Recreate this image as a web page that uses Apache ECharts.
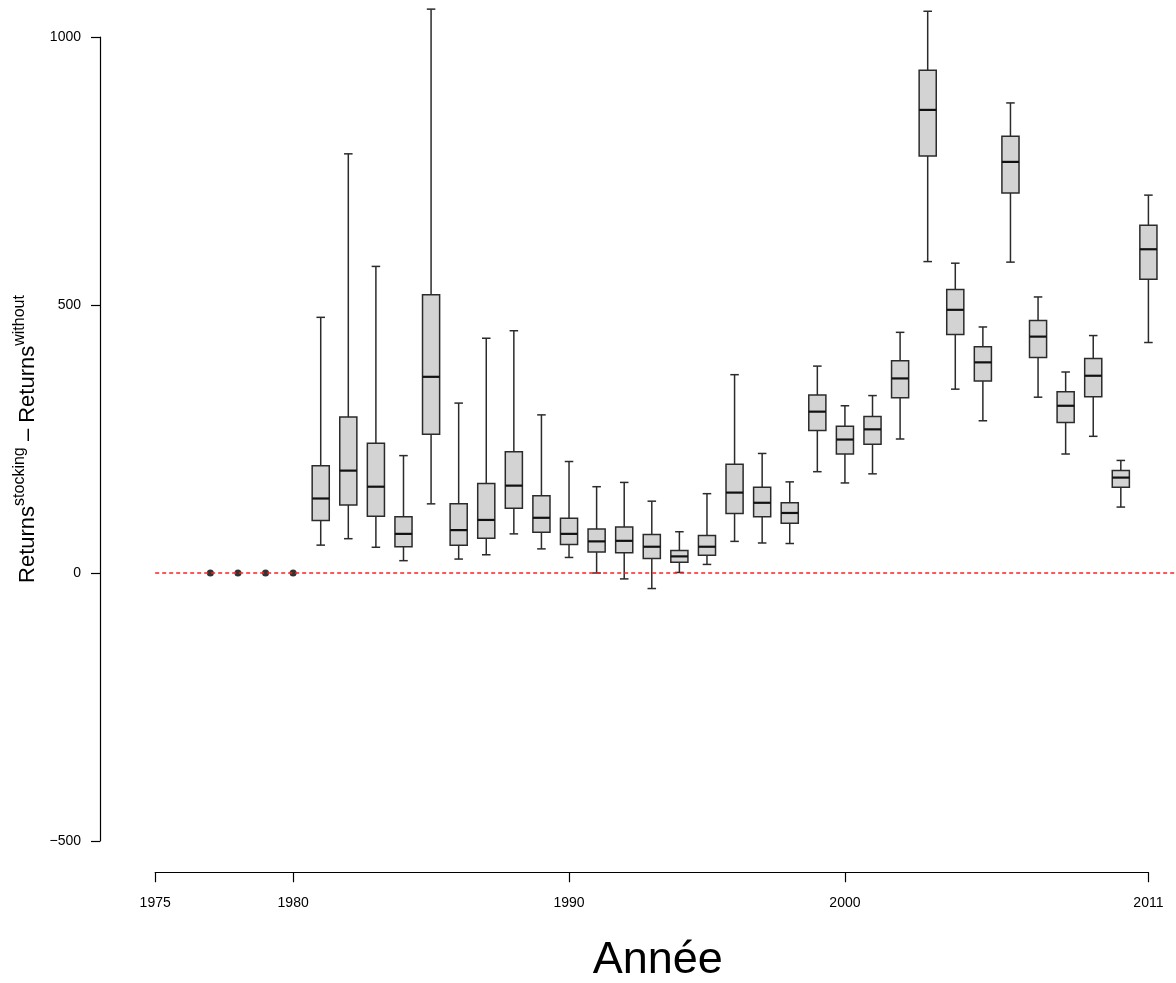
<!DOCTYPE html>
<html>
<head>
<meta charset="utf-8">
<script src="https://cdn.jsdelivr.net/npm/echarts@6.0.0/dist/echarts.min.js"></script>
<style>
  html, body { margin: 0; padding: 0; background: #ffffff; }
  #chart { width: 1176px; height: 983px; }
</style>
</head>
<body>
<div id="chart"></div>
<script>
// ---- Data ----
const years        = [1981,1982,1983,1984,1985,1986,1987,1988,1989,1990,1991,1992,1993,1994,1995,1996,1997,1998,1999,2000,2001,2002,2003,2004,2005,2006,2007,2008,2009,2010,2011];
const whiskerLow   = [  52,  64,  48,  23, 129,  26,  34,  73,  45,  29,   0, -11, -29,   1,  16,  59,  56,  55, 189, 168, 185, 250, 581, 343, 284, 580, 328, 222, 255, 123, 430];
const quartile1    = [  98, 127, 106,  49, 259,  52,  65, 121,  76,  53,  39,  38,  27,  20,  33, 111, 105,  93, 266, 222, 240, 327, 778, 445, 358, 709, 402, 281, 329, 160, 548];
const medians      = [ 139, 191, 161,  73, 366,  80,  99, 163, 103,  73,  59,  60,  49,  31,  49, 150, 131, 112, 301, 249, 268, 363, 864, 491, 393, 767, 441, 312, 368, 178, 604];
const quartile3    = [ 200, 291, 242, 105, 519, 129, 167, 226, 144, 102,  82,  86,  72,  42,  70, 203, 160, 131, 332, 274, 292, 396, 938, 529, 422, 815, 471, 338, 400, 191, 649];
const whiskerHigh  = [ 477, 782, 572, 219,1052, 317, 438, 452, 295, 208, 161, 169, 134,  77, 148, 370, 223, 170, 386, 312, 331, 449,1048, 578, 459, 877, 515, 375, 443, 210, 705];

const pointYears   = [1977, 1978, 1979, 1980];
const pointValues  = [0, 0, 0, 0];

const refLineYears = [1975, 2012];
const refLineValue = 0;

const xTickValues  = [1975, 1980, 1990, 2000, 2011];
const yTickMin = -500, yTickMax = 1000, yTickStep = 500;

const yTitle = '{b|Returns}{s|stocking}{b| \u2013 Returns}{s|without}';
const xTitle = 'Ann\u00e9e';

// ---- Build series data ----
const boxData = years.map((y, i) => [y, whiskerLow[i], quartile1[i], medians[i], quartile3[i], whiskerHigh[i]]);
const pointData = pointYears.map((y, i) => [y, pointValues[i]]);
const refData = refLineYears.map(y => [y, refLineValue]);

function renderBox(params, api) {
  const x = api.value(0);
  const pLo = api.coord([x, api.value(1)]);
  const pQ1 = api.coord([x, api.value(2)]);
  const pMed = api.coord([x, api.value(3)]);
  const pQ3 = api.coord([x, api.value(4)]);
  const pHi = api.coord([x, api.value(5)]);
  const w = api.size([1, 0])[0] * 0.62;
  const cx = pMed[0];
  const capW = w / 2;
  const lineStyle = { stroke: '#2b2b2b', lineWidth: 1.5 };
  return {
    type: 'group',
    children: [
      { type: 'line', shape: { x1: cx, y1: pLo[1], x2: cx, y2: pQ1[1] }, style: lineStyle },
      { type: 'line', shape: { x1: cx, y1: pQ3[1], x2: cx, y2: pHi[1] }, style: lineStyle },
      { type: 'line', shape: { x1: cx - capW / 2, y1: pLo[1], x2: cx + capW / 2, y2: pLo[1] }, style: lineStyle },
      { type: 'line', shape: { x1: cx - capW / 2, y1: pHi[1], x2: cx + capW / 2, y2: pHi[1] }, style: lineStyle },
      { type: 'rect', shape: { x: cx - w / 2, y: pQ3[1], width: w, height: pQ1[1] - pQ3[1] },
        style: { fill: '#d3d3d3', stroke: '#2b2b2b', lineWidth: 1.5 } },
      { type: 'line', shape: { x1: cx - w / 2, y1: pMed[1], x2: cx + w / 2, y2: pMed[1] },
        style: { stroke: '#111111', lineWidth: 2.2 } }
    ]
  };
}

const FONT = 'Liberation Sans, Arial, Helvetica, sans-serif';
const chart = echarts.init(document.getElementById('chart'), null, { renderer: 'canvas' });

const W = 1176;
const plotLeft = 100;
const plotWidth = W - plotLeft;
const pxPerYear = plotWidth / 39;

chart.setOption({
  animation: false,
  backgroundColor: '#ffffff',
  grid: [
    { left: plotLeft, width: plotWidth, top: 37, height: 804 },
    { left: plotLeft + 2 * pxPerYear, width: 36 * pxPerYear, top: 872, height: 1 }
  ],
  xAxis: [
    { type: 'value', gridIndex: 0, min: 1973, max: 2012, show: false },
    {
      type: 'value', gridIndex: 1, min: 1975, max: 2011, position: 'bottom',
      axisLine: { show: true, onZero: false, lineStyle: { color: '#000000', width: 1.2 } },
      axisTick: { show: true, length: 10, customValues: xTickValues, lineStyle: { color: '#000000', width: 1.2 } },
      axisLabel: { show: true, customValues: xTickValues, margin: 24, fontSize: 14, color: '#000000', fontFamily: FONT,
        formatter: v => String(v) },
      splitLine: { show: false },
      name: xTitle, nameLocation: 'middle', nameGap: 66,
      nameTextStyle: { fontSize: 45, color: '#000000', fontFamily: FONT, padding: [0, 0, 0, 12] }
    }
  ],
  yAxis: [
    {
      type: 'value', gridIndex: 0, min: yTickMin, max: yTickMax, interval: yTickStep, position: 'left',
      axisLine: { show: true, lineStyle: { color: '#000000', width: 1.2 } },
      axisTick: { show: true, length: 9, lineStyle: { color: '#000000', width: 1.2 } },
      axisLabel: { show: true, margin: 19, fontSize: 14, color: '#000000', fontFamily: FONT,
        formatter: v => String(v).replace('-', '\u2212') },
      splitLine: { show: false },
      name: yTitle, nameLocation: 'middle', nameRotate: 90, nameGap: 49,
      nameTextStyle: {
        color: '#000000', fontFamily: FONT,
        rich: {
          b: { fontSize: 22, lineHeight: 27, verticalAlign: 'bottom', fontFamily: FONT, color: '#000000' },
          s: { fontSize: 16, lineHeight: 13, verticalAlign: 'top', fontFamily: FONT, color: '#000000' }
        }
      }
    },
    { type: 'value', gridIndex: 1, min: 0, max: 1, show: false }
  ],
  series: [
    {
      type: 'custom', xAxisIndex: 0, yAxisIndex: 0, renderItem: renderBox, data: boxData,
      encode: { x: 0, y: [1, 2, 3, 4, 5] }, z: 2
    },
    {
      type: 'scatter', xAxisIndex: 0, yAxisIndex: 0, data: pointData, symbol: 'circle', symbolSize: 7,
      itemStyle: { color: '#000000' }, z: 3
    },
    {
      type: 'line', xAxisIndex: 0, yAxisIndex: 0, data: refData, symbol: 'none', clip: false,
      lineStyle: { color: '#ff2020', width: 1.3, type: [4, 3] }, z: 4
    }
  ]
});
</script>
</body>
</html>
